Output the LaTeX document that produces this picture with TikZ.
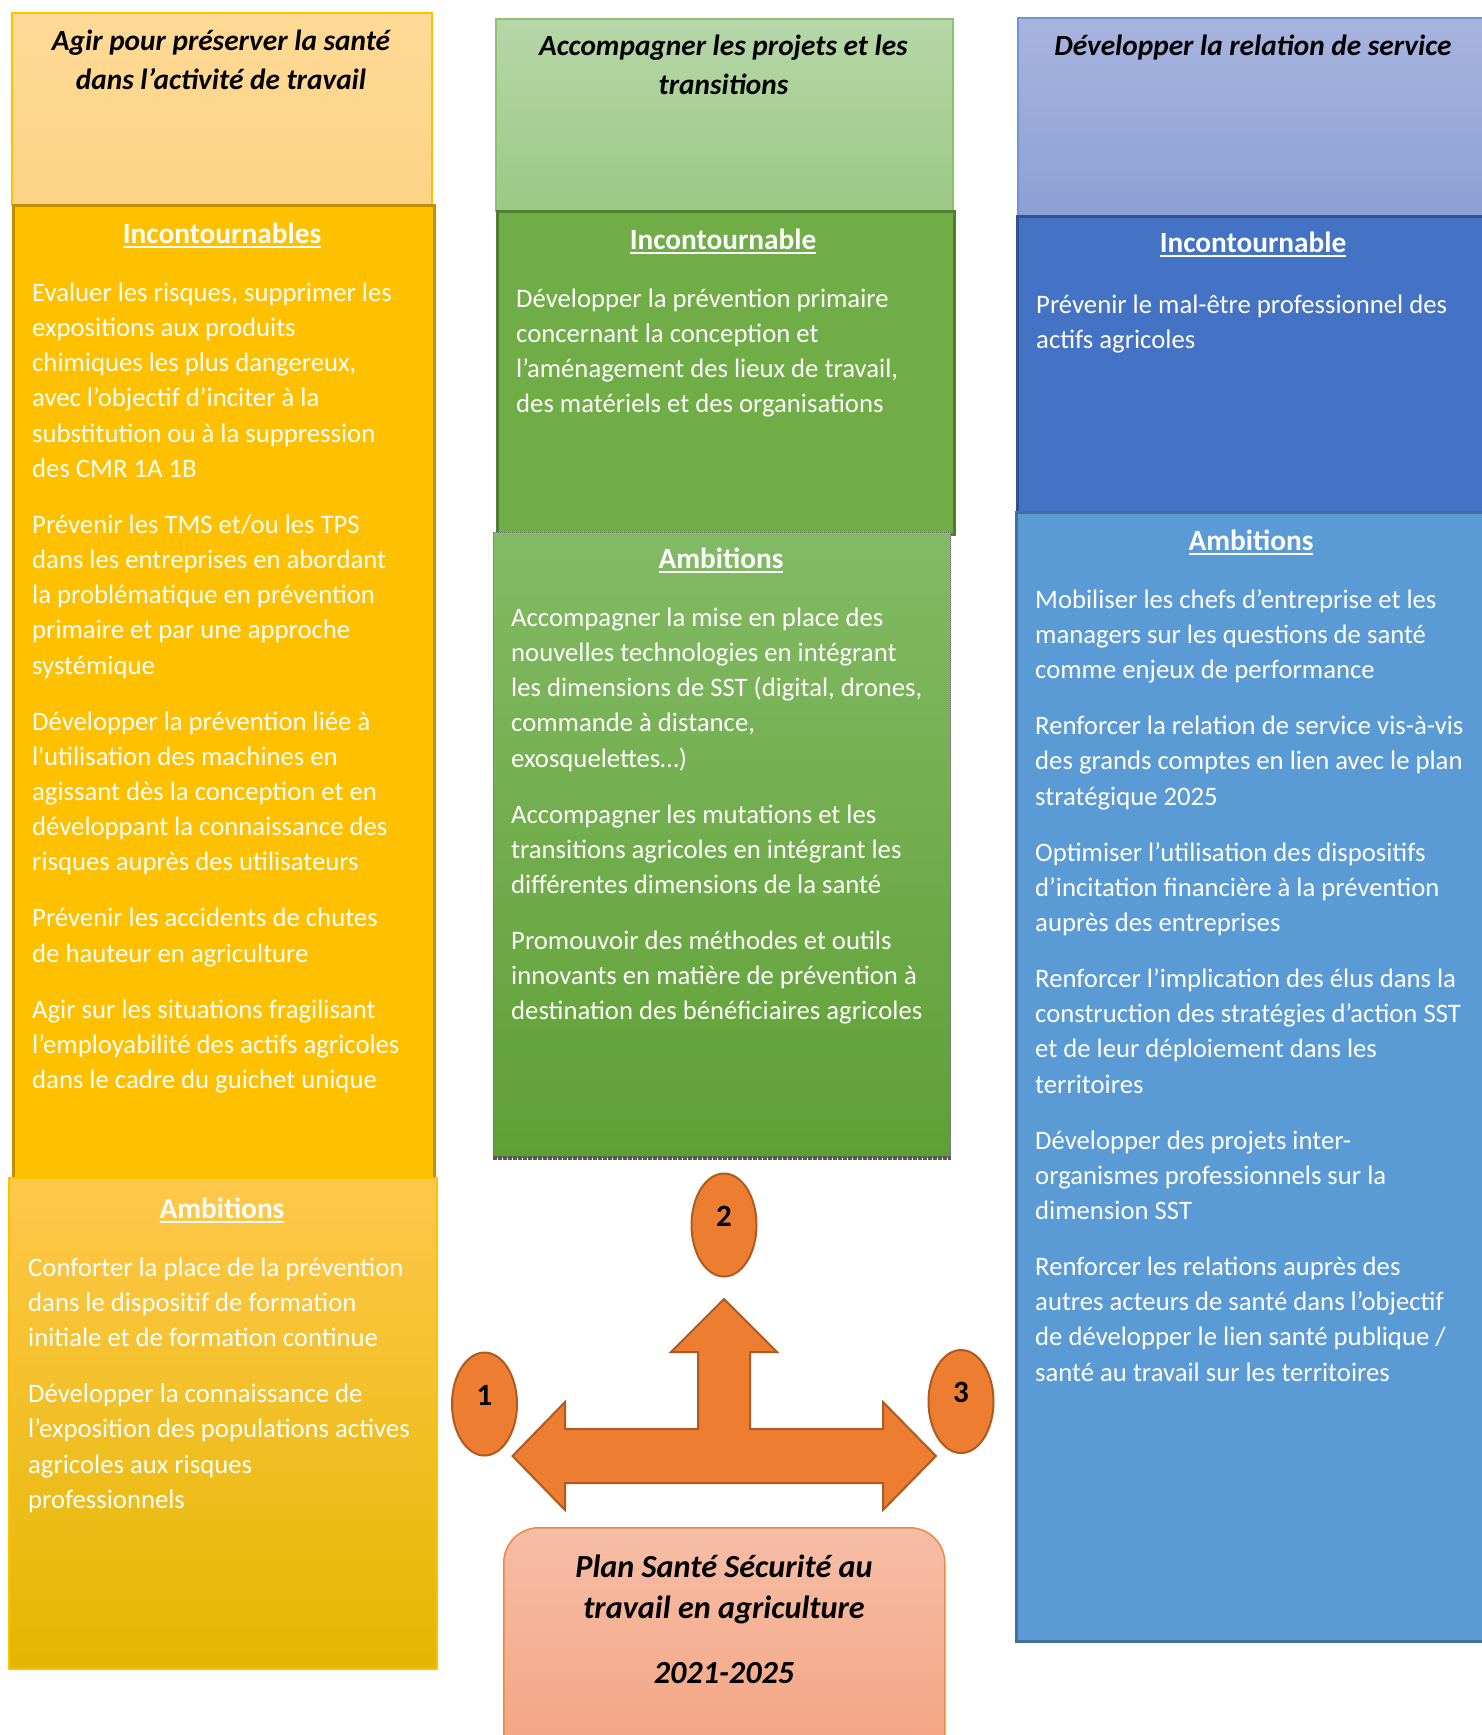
\documentclass[tikz,border=0pt]{standalone}
\usepackage{fontspec}
\setmainfont{Carlito}
\usetikzlibrary{shapes.geometric,shadings}
\definecolor{lhTop}{HTML}{FFDA96}
\definecolor{lhBot}{HTML}{FDD385}
\definecolor{gold}{HTML}{FFC000}
\definecolor{goldDark}{HTML}{BF9000}
\definecolor{laTop}{HTML}{FFC84B}
\definecolor{laBot}{HTML}{E3B700}
\definecolor{mhTop}{HTML}{B6D7A8}
\definecolor{mhBot}{HTML}{9CC985}
\definecolor{mhLine}{HTML}{8DC06F}
\definecolor{grn}{HTML}{70AD47}
\definecolor{grnDark}{HTML}{507E32}
\definecolor{maTop}{HTML}{83BA65}
\definecolor{maBot}{HTML}{5FA034}
\definecolor{rhTop}{HTML}{A8B4DF}
\definecolor{rhBot}{HTML}{8BA0D6}
\definecolor{rhLine}{HTML}{7094D8}
\definecolor{blu}{HTML}{4472C4}
\definecolor{bluDark}{HTML}{2F528F}
\definecolor{lblu}{HTML}{5B9BD5}
\definecolor{lbluDark}{HTML}{41719C}
\definecolor{org}{HTML}{ED7D31}
\definecolor{orgDark}{HTML}{AE5A21}
\definecolor{pbTop}{HTML}{F6BEA6}
\definecolor{pbBot}{HTML}{F39F7C}
\definecolor{pbLine}{HTML}{F0883E}
\newcommand{\myul}[1]{\setbox0\hbox{#1}\rlap{\rule[-4.5pt]{\wd0}{2pt}}\box0}
\begin{document}
\begin{tikzpicture}[x=1pt,y=-1pt,
  panel/.style={rectangle, inner sep=0pt, anchor=north west},
  body/.style={text=white, font=\fontsize{26.7}{35.2}\selectfont, align=left, anchor=north west, inner sep=0pt},
  sect/.style={text=white, font=\bfseries\fontsize{29.3}{33}\selectfont, anchor=base, inner sep=0pt},
  headt/.style={text=black, font=\bfseries\itshape\fontsize{29.3}{39}\selectfont, align=center, inner sep=0pt},
  oval/.style={ellipse, draw=orgDark, fill=org, line width=2pt, minimum width=65pt, minimum height=103pt, inner sep=0pt},
  num/.style={text=black, font=\bfseries\fontsize{31}{32}\selectfont, inner sep=0pt},
]
\useasboundingbox (0,0) rectangle (1482,1735);
\clip (0,0) rectangle (1482,1735);

% ---- left column
\node[panel, top color=lhTop, bottom color=lhBot, draw=gold, line width=1.5pt,
      minimum width=420pt, minimum height=192pt] (lh) at (11,12) {};
\node[panel, fill=gold, draw=goldDark, line width=2.5pt,
      minimum width=421pt, minimum height=974pt] (li) at (12,204) {};
\node[panel, top color=laTop, bottom color=laBot, draw=gold, line width=1.5pt,
      minimum width=428pt, minimum height=491pt] (la) at (8,1177) {};

% ---- middle column
\node[panel, top color=mhTop, bottom color=mhBot, draw=mhLine, line width=1.5pt,
      minimum width=457pt, minimum height=192pt] (mh) at (495,18) {};
\node[panel, fill=grn, draw=grnDark, line width=2.5pt,
      minimum width=457pt, minimum height=323pt] (mi) at (496,210) {};
\node[panel, top color=maTop, bottom color=maBot, draw=black!55, densely dotted, line width=1pt,
      minimum width=457pt, minimum height=625pt] (ma) at (493,532) {};
\draw[black!65, densely dotted, line width=4pt] (ma.south west) -- (ma.south east);

% ---- right column
\node[panel, top color=rhTop, bottom color=rhBot, draw=rhLine, line width=1.5pt,
      minimum width=473pt, minimum height=198pt] (rh) at (1017,17) {};
\node[panel, fill=blu, draw=bluDark, line width=2.5pt,
      minimum width=474pt, minimum height=296pt] (ri) at (1016,215) {};
\node[panel, fill=lblu, draw=lbluDark, line width=2.5pt,
      minimum width=475pt, minimum height=1129pt] (ra) at (1015,511) {};

% ---- header titles
\node[headt, anchor=north] (lht) at (221,22.7) {\strut Agir pour préserver la santé\\dans l’activité de travail};
\node[headt, anchor=north] (mht) at (723.5,27.7) {\strut Accompagner les projets et les\\transitions};
\node[headt, anchor=base] (rht) at (1253,55) {Développer la relation de service};

% ---- section titles
\node[sect] (lit) at (222,243) {\myul{Incontournables}};
\node[sect] (lat) at (222,1218) {\myul{Ambitions}};
\node[sect] (mit) at (723,249) {\myul{Incontournable}};
\node[sect] (mat) at (721,568) {\myul{Ambitions}};
\node[sect] (rit) at (1253,252) {\myul{Incontournable}};
\node[sect] (rat) at (1251,550) {\myul{Ambitions}};

% ---- body texts
\node[body] (lib) at (32,276.4) {\strut Evaluer les risques, supprimer les\\
expositions aux produits\\
chimiques les plus dangereux,\\
avec l’objectif d’inciter à la\\
substitution ou à la suppression\\
des CMR 1A 1B\\[20.8pt]
Prévenir les TMS et/ou les TPS\\
dans les entreprises en abordant\\
la problématique en prévention\\
primaire et par une approche\\
systémique\\[20.8pt]
Développer la prévention liée à\\
l\textquotesingle utilisation des machines en\\
agissant dès la conception et en\\
développant la connaissance des\\
risques auprès des utilisateurs\\[20.8pt]
Prévenir les accidents de chutes\\
de hauteur en agriculture\\[20.8pt]
Agir sur les situations fragilisant\\
l’employabilité des actifs agricoles\\
dans le cadre du guichet unique};

\node[body] (lab) at (28,1251.4) {\strut Conforter la place de la prévention\\
dans le dispositif de formation\\
initiale et de formation continue\\[20.8pt]
Développer la connaissance de\\
l’exposition des populations actives\\
agricoles aux risques\\
professionnels};

\node[body] (mib) at (516,282.4) {\strut Développer la prévention primaire\\
concernant la conception et\\
l’aménagement des lieux de travail,\\
des matériels et des organisations};

\node[body] (mab) at (511,601.4) {\strut Accompagner la mise en place des\\
nouvelles technologies en intégrant\\
les dimensions de SST (digital, drones,\\
commande à distance,\\
exosquelettes…)\\[20.8pt]
Accompagner les mutations et les\\
transitions agricoles en intégrant les\\
différentes dimensions de la santé\\[20.8pt]
Promouvoir des méthodes et outils\\
innovants en matière de prévention à\\
destination des bénéficiaires agricoles};

\node[body] (rib) at (1036,288.4) {\strut Prévenir le mal-être professionnel des\\
actifs agricoles};

\node[body] (rab) at (1035,583.4) {\strut Mobiliser les chefs d’entreprise et les\\
managers sur les questions de santé\\
comme enjeux de performance\\[20.8pt]
Renforcer la relation de service vis-à-vis\\
des grands comptes en lien avec le plan\\
stratégique 2025\\[20.8pt]
Optimiser l’utilisation des dispositifs\\
d’incitation financière à la prévention\\
auprès des entreprises\\[20.8pt]
Renforcer l’implication des élus dans la\\
construction des stratégies d’action SST\\
et de leur déploiement dans les\\
territoires\\[20.8pt]
Développer des projets inter-\\
organismes professionnels sur la\\
dimension SST\\[20.8pt]
Renforcer les relations auprès des\\
autres acteurs de santé dans l’objectif\\
de développer le lien santé publique /\\
santé au travail sur les territoires};

% ---- block arrow
\draw[fill=org, draw=orgDark, line width=2pt, line join=miter]
  (724,1299) -- (777,1352) -- (750,1352) -- (750,1429) -- (883,1429) -- (883,1402)
  -- (936,1456) -- (883,1510) -- (883,1483) -- (565,1483) -- (565,1510)
  -- (512.5,1456) -- (565,1402) -- (565,1429) -- (698,1429) -- (698,1352)
  -- (671,1352) -- cycle;

% ---- ovals
\node[oval] (e1) at (484.5,1404) {};
\node[oval] (e2) at (724,1225) {};
\node[oval] (e3) at (961,1401.5) {};
\node[num] (n1) at ([yshift=9pt]e1.center) {1};
\node[num] (n2) at ([yshift=9pt]e2.center) {2};
\node[num] (n3) at ([yshift=9pt]e3.center) {3};

% ---- bottom box
\node[panel, rounded corners=35pt, top color=pbTop, bottom color=pbBot, draw=pbLine, line width=1.5pt,
      minimum width=441pt, minimum height=270pt] (pb) at (503,1527) {};
\node[headt, anchor=north, font=\bfseries\itshape\fontsize{32.2}{41}\selectfont] (pbt) at (724,1548.3)
  {\strut Plan Santé Sécurité au\\travail en agriculture\\[24pt]2021-2025};
\end{tikzpicture}
\end{document}
